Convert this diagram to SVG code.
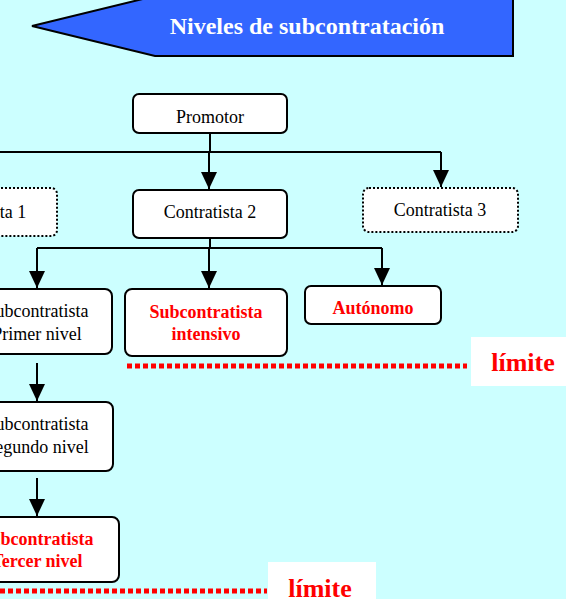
<svg xmlns="http://www.w3.org/2000/svg" width="566" height="599" viewBox="0 0 566 599">
<defs>
<marker id="ah" markerUnits="userSpaceOnUse" markerWidth="18" markerHeight="16" refX="17" refY="8" orient="auto">
<path d="M0,0 L17,8 L0,16 Z" fill="#000"/>
</marker>
<clipPath id="cp1"><rect x="133" y="94" width="154" height="29"/></clipPath>
<clipPath id="cp2"><rect x="305" y="286" width="136" height="28"/></clipPath>
</defs>
<style>
.box{fill:#fff;stroke:#000;stroke-width:2}
.dot{fill:#fff;stroke:#000;stroke-width:2;stroke-dasharray:2 2}
.t{font-family:"Liberation Serif","Times New Roman",serif;font-size:18px;fill:#000;text-anchor:middle}
.r{font-family:"Liberation Serif","Times New Roman",serif;font-size:18px;font-weight:bold;fill:#ff0000;text-anchor:middle}
.c{fill:none;stroke:#000;stroke-width:2}
.lim{fill:none;stroke:#ff0000;stroke-width:5;stroke-dasharray:5 3}
.lt{font-family:"Liberation Serif","Times New Roman",serif;font-size:26px;font-weight:bold;fill:#ff0000;text-anchor:middle}
</style>
<rect width="566" height="599" fill="#CCFFFF"/>
<g id="title">
<polygon points="32,26 155,-4 513,-4 513,56 155,56" fill="#3366FF" stroke="#000" stroke-width="2"/>
<text x="307" y="34" style="font-family:'Liberation Serif','Times New Roman',serif;font-size:24px;font-weight:bold;fill:#fff;text-anchor:middle">Niveles de subcontratación</text>
</g>
<g id="connectors">
<path class="c" d="M210,133 V152"/>
<path class="c" d="M-20,152 H441"/>
<path class="c" d="M-20,152 V188" marker-end="url(#ah)"/>
<path class="c" d="M209,152 V189" marker-end="url(#ah)"/>
<path class="c" d="M441,152 V187" marker-end="url(#ah)"/>
<path class="c" d="M210,238 V248"/>
<path class="c" d="M37,248 H382"/>
<path class="c" d="M37,248 V288" marker-end="url(#ah)"/>
<path class="c" d="M209,248 V288" marker-end="url(#ah)"/>
<path class="c" d="M382,248 V285" marker-end="url(#ah)"/>
<path class="c" d="M37,363 V401" marker-end="url(#ah)"/>
<path class="c" d="M37,478 V516" marker-end="url(#ah)"/>
</g>
<g id="promotor">
<rect class="box" x="133" y="94" width="154" height="39" rx="6"/>
<text class="t" x="210" y="123" clip-path="url(#cp1)">Promotor</text>
</g>
<g id="contratista1">
<rect class="dot" x="-97" y="188" width="154" height="48" rx="6"/>
<text class="t" x="-20" y="218">Contratista 1</text>
</g>
<g id="contratista2">
<rect class="box" x="133" y="190" width="154" height="48" rx="6"/>
<text class="t" x="210" y="218">Contratista 2</text>
</g>
<g id="contratista3">
<rect class="dot" x="363" y="188" width="155" height="44" rx="6"/>
<text class="t" x="440" y="216">Contratista 3</text>
</g>
<g id="sub1">
<rect class="box" x="-38" y="289" width="150" height="65" rx="7"/>
<text class="t" x="37" y="317">Subcontratista</text>
<text class="t" x="37" y="340">Primer nivel</text>
</g>
<g id="intensivo">
<rect class="box" x="125" y="289" width="162" height="67" rx="7"/>
<text class="r" x="206" y="318">Subcontratista</text>
<text class="r" x="206" y="340">intensivo</text>
</g>
<g id="autonomo">
<rect class="box" x="305" y="286" width="136" height="38" rx="6"/>
<text class="r" x="373" y="314" clip-path="url(#cp2)">Autónomo</text>
</g>
<g id="sub2">
<rect class="box" x="-38" y="402" width="151" height="69" rx="7"/>
<text class="t" x="37" y="430">Subcontratista</text>
<text class="t" x="37" y="453">Segundo nivel</text>
</g>
<g id="sub3">
<rect class="box" x="-38" y="517" width="157" height="65" rx="7"/>
<text class="r" x="37" y="545">Subcontratista</text>
<text class="r" x="37" y="567">Tercer nivel</text>
</g>
<g id="limite1">
<path class="lim" d="M127,366 H467"/>
<rect x="471" y="337" width="95" height="49" fill="#fff"/>
<text class="lt" x="523" y="371">límite</text>
</g>
<g id="limite2">
<path class="lim" d="M0,591 H267"/>
<rect x="268" y="562" width="108" height="37" fill="#fff"/>
<text class="lt" x="320" y="597">límite</text>
</g>
</svg>
